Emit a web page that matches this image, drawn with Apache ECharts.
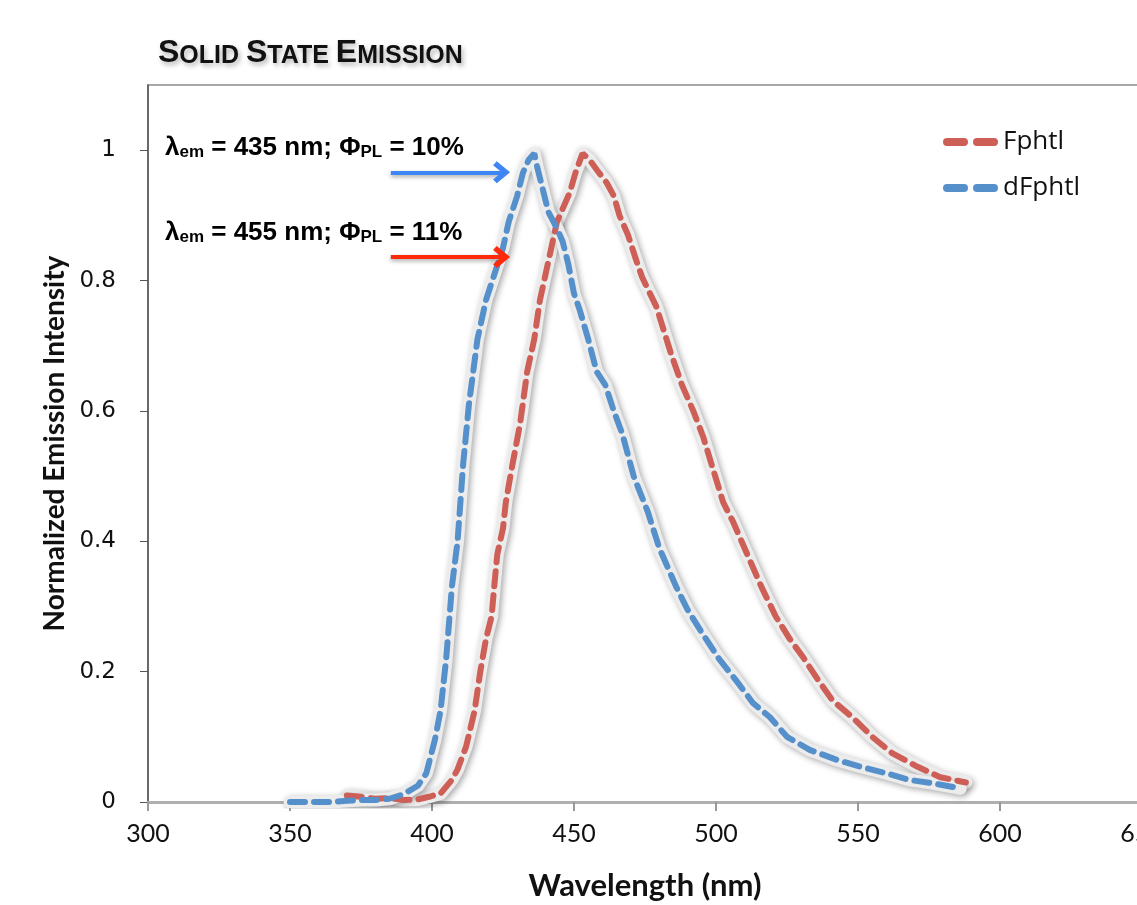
<!DOCTYPE html>
<html>
<head>
<meta charset="utf-8">
<script src="https://cdn.jsdelivr.net/npm/echarts@6/dist/echarts.min.js"></script>
<style>
  html, body { margin: 0; padding: 0; background: #fff; }
  #chart { width: 1137px; height: 905px; }
</style>
</head>
<body>
<div id="chart"></div>
<script>
// Fphtl (red) spectrum
var fphtlNm = [370, 375, 380, 385, 390, 395, 399, 403, 407, 409, 412, 415, 417, 419, 421, 422, 423, 425, 426, 428,
  431, 433.5, 436, 438, 441, 444, 446, 448.5, 450.5, 453, 455.5, 458, 461.5, 464, 466, 469, 472, 474, 479, 484,
  488, 492, 495.5, 499, 502.5, 506, 511, 516, 521, 526, 531, 536, 541, 548, 555, 562, 571, 579, 588];
var fphtlI = [0.01, 0.008, 0.005, 0.006, 0.003, 0.004, 0.008, 0.013, 0.034, 0.05, 0.085, 0.14, 0.2, 0.25, 0.285, 0.335, 0.38, 0.42, 0.46, 0.51,
  0.58, 0.66, 0.71, 0.77, 0.83, 0.89, 0.91, 0.935, 0.965, 0.995, 0.985, 0.97, 0.95, 0.93, 0.9, 0.87, 0.83, 0.805, 0.76, 0.69,
  0.64, 0.6, 0.56, 0.51, 0.46, 0.43, 0.38, 0.33, 0.285, 0.25, 0.22, 0.187, 0.156, 0.13, 0.1, 0.075, 0.054, 0.038, 0.03];

// dFphtl (blue) spectrum
var dfphtlNm = [350, 355, 360, 365, 370, 375, 380, 385, 390, 395, 398, 401, 403, 405, 407, 409, 411, 413, 416, 419,
  422, 425, 427, 430, 432, 434, 436, 437, 439, 441, 444, 446, 448, 450, 452, 455, 458, 461, 464, 467,
  471, 476, 480, 483, 486, 490, 495, 501, 507, 513, 519, 525, 533, 543, 551, 560, 568, 576, 586];
var dfphtlI = [0, 0, 0, 0, 0.002, 0.003, 0.003, 0.005, 0.012, 0.025, 0.044, 0.095, 0.14, 0.22, 0.33, 0.4, 0.52, 0.61, 0.71, 0.77,
  0.81, 0.85, 0.89, 0.93, 0.965, 0.985, 0.995, 0.975, 0.94, 0.905, 0.88, 0.86, 0.825, 0.78, 0.755, 0.71, 0.66, 0.64, 0.6, 0.565,
  0.5, 0.445, 0.39, 0.36, 0.33, 0.295, 0.26, 0.22, 0.187, 0.152, 0.13, 0.1, 0.08, 0.064, 0.054, 0.044, 0.034, 0.029, 0.021];

var seriesNames = ['Fphtl', 'dFphtl'];
var xTicks = [300, 350, 400, 450, 500, 550, 600, 650];
var yTicks = [0, 0.2, 0.4, 0.6, 0.8, 1];

// arrows: [startNm, endNm, intensity]
var blueArrow = [385.5, 424.5, 0.966];
var redArrow = [385.5, 424.5, 0.836];

function zip(xs, ys) {
  return xs.map(function (x, i) { return [x, ys[i]]; });
}

var RED = '#CD5F57';
var BLUE = '#5590CB';
var chevron = 'path://M10,0 L20,11 L16.5,14 L10,7 L3.5,14 L0,11 Z';
// two rounded dashes for the legend swatch
var dashIcon = 'path://M4,0 L21,0 A4,4 0 0 1 21,8 L4,8 A4,4 0 0 1 4,0 Z M34,0 L51,0 A4,4 0 0 1 51,8 L34,8 A4,4 0 0 1 34,0 Z';

function haloSeries(data) {
  return {
    type: 'line',
    data: data,
    symbol: 'none',
    silent: true,
    z: 1,
    lineStyle: {
      color: '#ececec',
      width: 13,
      cap: 'round',
      join: 'round',
      shadowColor: 'rgba(0,0,0,0.35)',
      shadowBlur: 6,
      shadowOffsetX: 2,
      shadowOffsetY: 2,
    },
  };
}

function arrowLine(a, color) {
  return {
    silent: true,
    symbol: ['none', chevron],
    symbolSize: [22, 17],
    label: { show: false },
    lineStyle: {
      type: 'solid',
      color: color,
      width: 4,
      shadowColor: 'rgba(0,0,0,0.35)',
      shadowBlur: 4,
      shadowOffsetY: 2,
    },
    itemStyle: { color: color },
    data: [[{ coord: [a[0], a[2]] }, { coord: [a[1], a[2]] }]],
  };
}

var chart = echarts.init(document.getElementById('chart'));

var labelRich = {
  a: { fontFamily: 'Liberation Sans', fontWeight: 'bold', fontSize: 26, lineHeight: 30, verticalAlign: 'bottom', color: '#111' },
  s: { fontFamily: 'Liberation Sans', fontWeight: 'bold', fontSize: 17, lineHeight: 12, verticalAlign: 'bottom', color: '#111' },
};
var titleShadow = { textShadowColor: 'rgba(0,0,0,0.3)', textShadowBlur: 5, textShadowOffsetX: 2, textShadowOffsetY: 3 };

chart.setOption({
  animation: false,
  title: {
    left: 153,
    top: 32,
    text: '{b|S}{c|OLID }{b|S}{c|TATE }{b|E}{c|MISSION}',
    textStyle: {
      rich: {
        b: Object.assign({ fontFamily: 'Liberation Sans', fontSize: 32, lineHeight: 32, verticalAlign: 'bottom', color: '#111' }, titleShadow),
        c: Object.assign({ fontFamily: 'Liberation Sans', fontSize: 25, lineHeight: 27, verticalAlign: 'bottom', color: '#111' }, titleShadow),
      },
    },
  },
  legend: {
    data: seriesNames,
    orient: 'vertical',
    left: 938,
    top: 124,
    itemGap: 20,
    itemWidth: 55,
    itemHeight: 8,
    icon: dashIcon,
    textStyle: { fontFamily: 'Open Sans', fontSize: 26, color: '#111', padding: [0, 0, 0, 0] },
  },
  grid: {
    left: 148,
    top: 85,
    right: -5,
    bottom: 103,
    outerBoundsMode: 'none',
    show: true,
    borderColor: '#a8a8a8',
    borderWidth: 2,
  },
  xAxis: {
    type: 'value',
    min: xTicks[0],
    max: xTicks[xTicks.length - 1],
    interval: 50,
    name: 'Wavelength (nm)',
    nameLocation: 'middle',
    nameGap: 68,
    nameTextStyle: { fontFamily: 'Lato', fontWeight: 'bold', fontSize: 31, color: '#111' },
    axisLine: { lineStyle: { color: '#b0b0b0', width: 3 } },
    axisTick: { show: true, length: 9, lineStyle: { color: '#999', width: 2 } },
    axisLabel: { fontFamily: 'Lato', fontSize: 25, color: '#111', margin: 19 },
    splitLine: { show: false },
  },
  yAxis: {
    type: 'value',
    min: 0,
    max: 1.1,
    interval: 0.2,
    name: 'Normalized Emission Intensity',
    nameLocation: 'middle',
    nameGap: 76,
    nameTextStyle: { fontFamily: 'Lato', fontWeight: 'bold', fontSize: 28, color: '#111' },
    axisLine: { show: true, lineStyle: { color: '#555', width: 1.5 } },
    axisTick: { show: true, length: 8, lineStyle: { color: '#555' } },
    axisLabel: {
      fontFamily: 'DejaVu Sans', fontSize: 23, color: '#111', margin: 32, showMaxLabel: false,
      formatter: function (v) { return yTicks.indexOf(Math.round(v * 10) / 10) >= 0 && v <= 1 ? String(Math.round(v * 10) / 10) : ''; },
    },
    splitLine: { show: false },
  },
  graphic: [
    { type: 'text', left: 165, top: 135, style: { text: '{a|λ}{s|em}{a| = 435 nm; Φ}{s|PL}{a| = 10%}', rich: labelRich } },
    { type: 'text', left: 165, top: 220, style: { text: '{a|λ}{s|em}{a| = 455 nm; Φ}{s|PL}{a| = 11%}', rich: labelRich } },
  ],
  series: [
    haloSeries(zip(fphtlNm, fphtlI)),
    haloSeries(zip(dfphtlNm, dfphtlI)),
    {
      name: seriesNames[0],
      type: 'line',
      data: zip(fphtlNm, fphtlI),
      symbol: 'none',
      z: 3,
      itemStyle: { color: RED },
      lineStyle: { color: RED, width: 6, type: [15, 9], cap: 'round' },
      markLine: arrowLine(redArrow, '#FF2A0A'),
    },
    {
      name: seriesNames[1],
      type: 'line',
      data: zip(dfphtlNm, dfphtlI),
      symbol: 'none',
      z: 3,
      itemStyle: { color: BLUE },
      lineStyle: { color: BLUE, width: 6, type: [15, 9], cap: 'round' },
      markLine: arrowLine(blueArrow, '#3F86F5'),
    },
  ],
});
</script>
</body>
</html>
